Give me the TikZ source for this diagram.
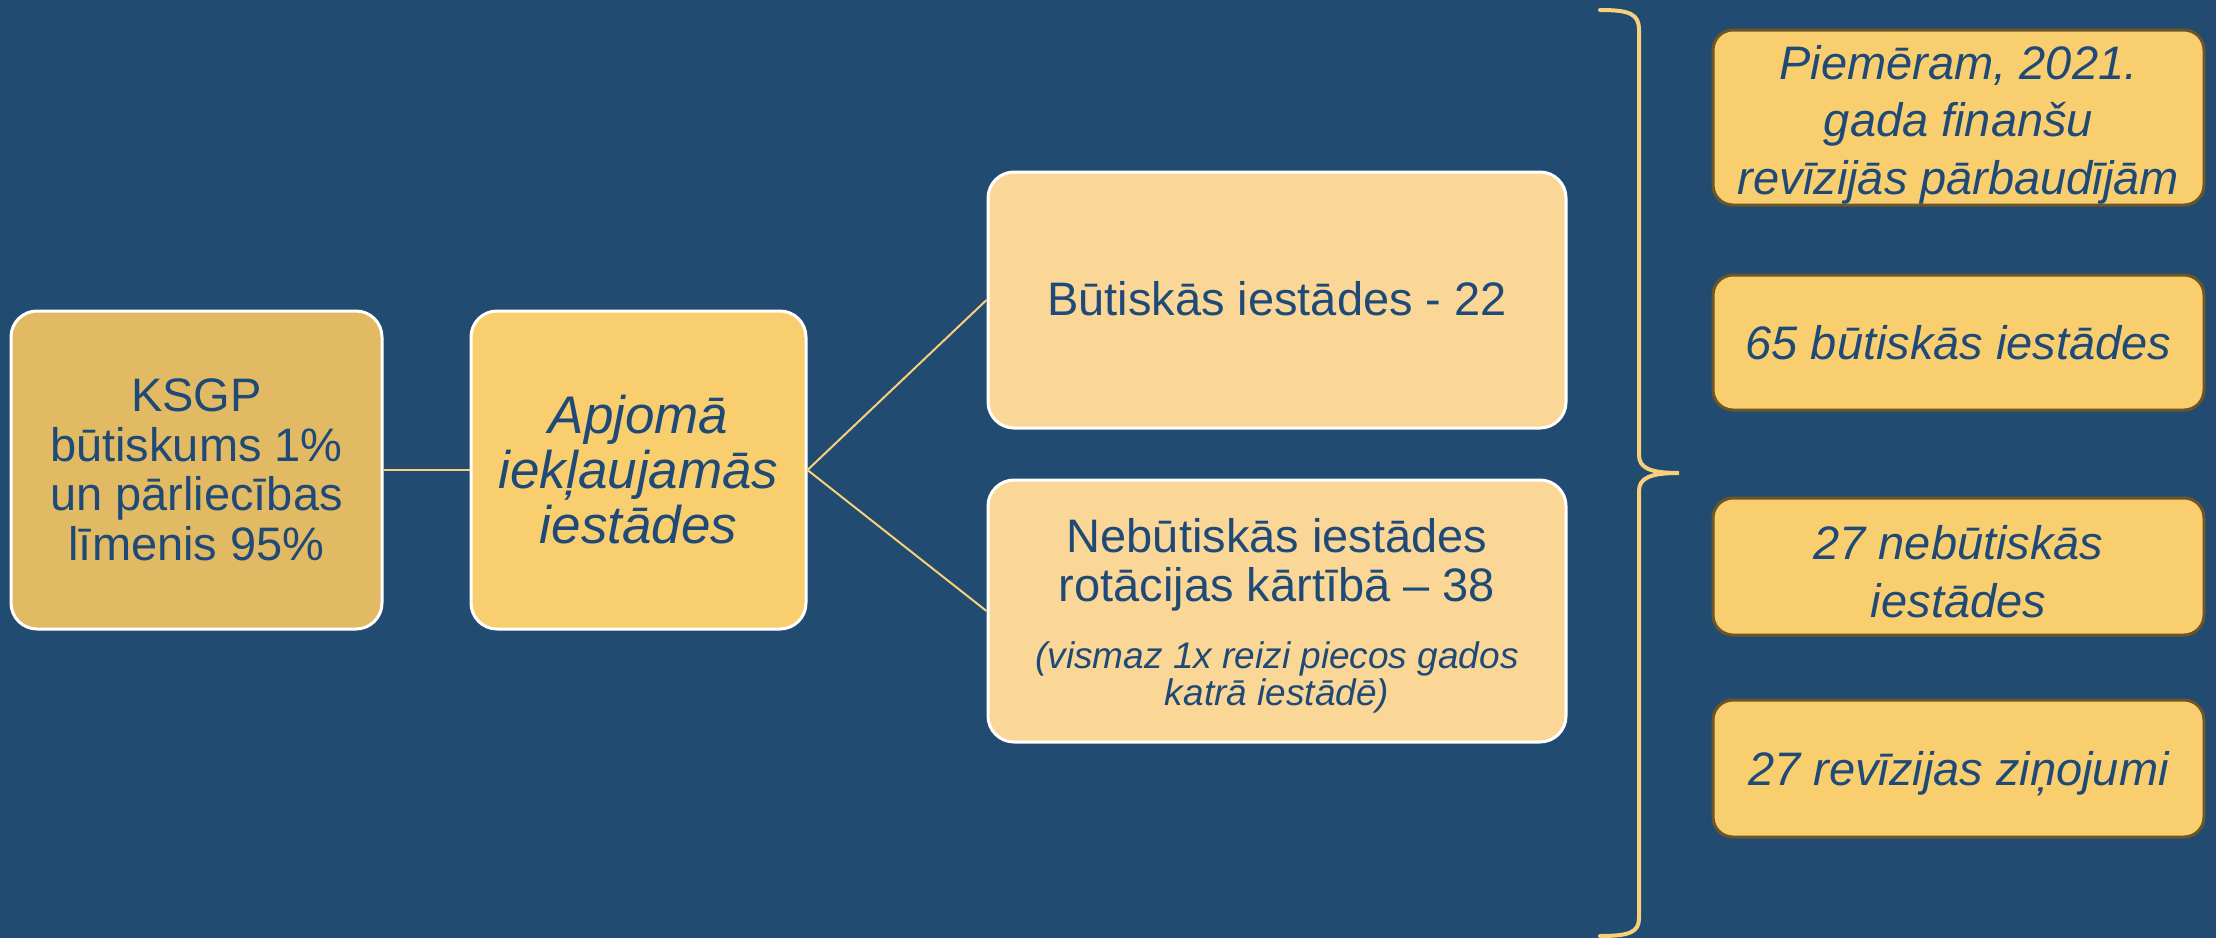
\documentclass[tikz,border=0pt]{standalone}
\usepackage{fontspec}
\setmainfont{Liberation Sans}
\definecolor{bg}{HTML}{224B72}
\definecolor{txt}{HTML}{1F4A78}
\definecolor{fillA}{HTML}{E1BA63}
\definecolor{fillB}{HTML}{F8CE6F}
\definecolor{fillC}{HTML}{FAD797}
\definecolor{brd}{HTML}{6E5526}
\definecolor{gold}{HTML}{F8D07A}
\begin{document}
\begin{tikzpicture}[x=0.5pt,y=-0.5pt,
  box/.style={draw=white, line width=1.5pt, rounded corners=13pt, text=txt, align=center, inner sep=0pt},
  leftbox/.style={box, fill=fillA, minimum width=185.5pt, minimum height=159pt, font=\fontsize{23.5}{24.75}\selectfont},
  scopebox/.style={box, fill=fillB, minimum width=167.5pt, minimum height=159pt, font=\fontsize{26.5}{27.5}\selectfont\itshape},
  midbox/.style={box, fill=fillC, minimum width=289pt, font=\fontsize{23.5}{24.5}\selectfont},
  rightbox/.style={draw=brd, line width=1.5pt, rounded corners=10pt, fill=fillB, text=txt, align=center, inner sep=0pt, minimum width=245.5pt, font=\fontsize{23.5}{28.75}\selectfont\itshape},
  oneline/.style={text height=22pt, text depth=5pt},
  link/.style={draw=gold, line width=1pt},
  bracestyle/.style={draw=gold, line width=2pt, line cap=round}
]
\useasboundingbox (0,0) rectangle (2216,938);
\fill[bg] (0,0) rectangle (2216,938);

\node[leftbox] (ksgp) at (196.5,470) {KSGP\\būtiskums 1\%\\un pārliecības\\līmenis 95\%};
\node[scopebox] (scope) at (638.5,470) {Apjomā\\iekļaujamās\\iestādes};
\node[midbox, text height=20pt, text depth=5pt, minimum height=128pt] (mat) at (1277,300) {Būtiskās iestādes - 22};
\node[midbox, minimum height=131pt, text width=285pt, align=flush center] (nonmat) at (1277,611)
  {\rule{0pt}{22pt}Nebūtiskās iestādes\\rotācijas kārtībā – 38\par\vspace{15pt}{\fontsize{18.5}{18.5}\selectfont\itshape\spaceskip=0pt\xspaceskip=0pt (vismaz 1x reizi piecos gados\\katrā iestādē)\par}};

\draw[link] (ksgp.east) -- (scope.west);
\draw[link] (scope.east) -- (mat.west);
\draw[link] (scope.east) -- (nonmat.west);

\coordinate (btop) at (1600,10);
\coordinate (btip) at (1679,473);
\coordinate (bbot) at (1600,936);
\draw[bracestyle] (btop) .. controls (1630,10) and (1639,14) .. (1639,30) -- (1639,455)
  .. controls (1639,468) and (1650,473) .. (btip)
  .. controls (1650,473) and (1639,478) .. (1639,491) -- (1639,918)
  .. controls (1639,932) and (1630,936) .. (bbot);

\node[rightbox, minimum height=87.5pt] (r1) at (1958.5,117.5) {\rule{0pt}{24pt}Piemēram, 2021.\\gada finanšu\\revīzijās pārbaudījām};
\node[rightbox, oneline, minimum height=67.5pt] (r2) at (1958.5,342.5) {65 būtiskās iestādes};
\node[rightbox, minimum height=68.5pt] (r3) at (1958.5,566.5) {\rule{0pt}{22pt}27 nebūtiskās\\iestādes};
\node[rightbox, oneline, minimum height=68.5pt] (r4) at (1958.5,768.5) {27 revīzijas ziņojumi};
\end{tikzpicture}
\end{document}
